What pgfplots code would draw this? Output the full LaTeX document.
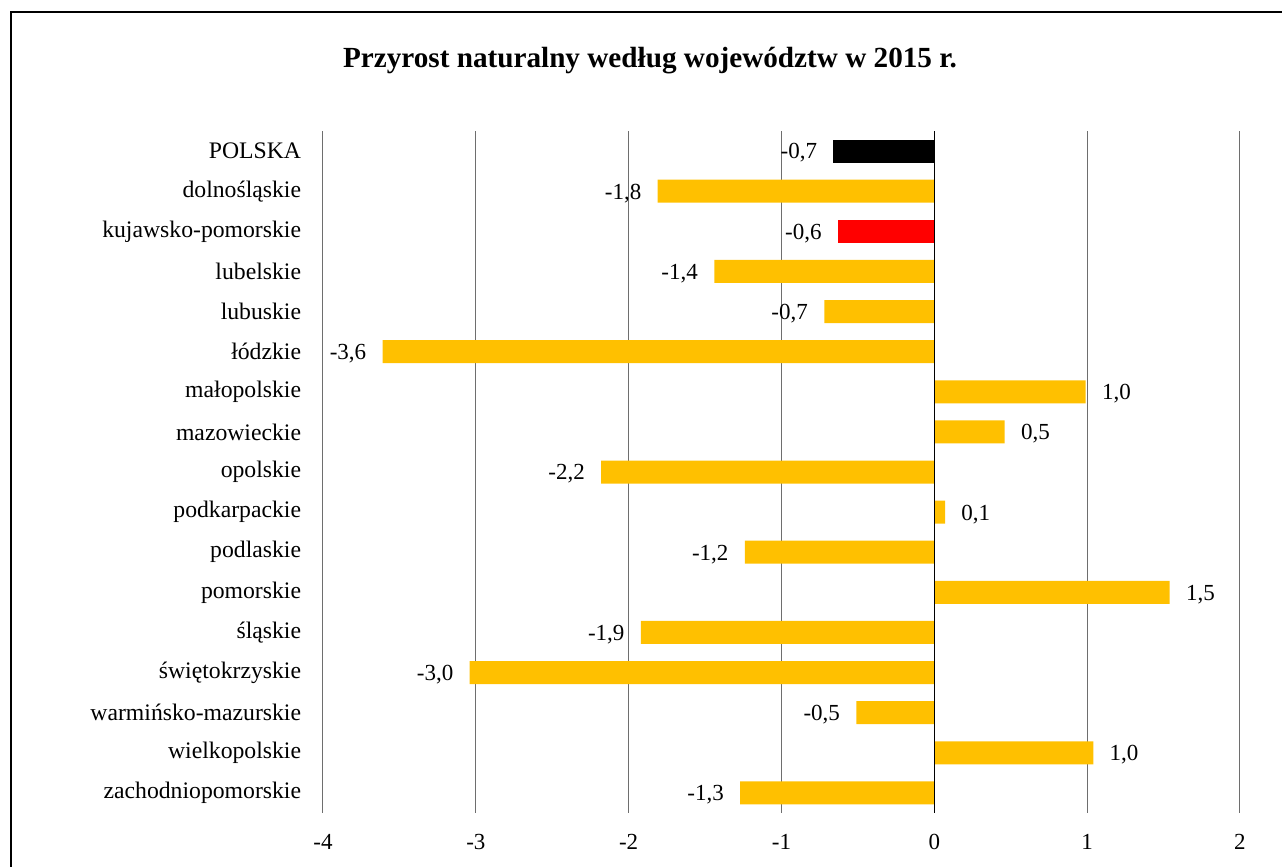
\documentclass[border=0pt]{standalone}
\usepackage{fontspec}
\setmainfont{Liberation Serif}
\usepackage{pgfplots}
\pgfplotsset{compat=1.18}
\definecolor{barY}{HTML}{FFC000}
\definecolor{barR}{HTML}{FF0000}
\definecolor{gridc}{HTML}{6E6E6E}

\newcommand{\lbl}{\fontsize{11.5}{13}\selectfont}
\newcommand{\cat}{\fontsize{11.85}{13}\selectfont}

\begin{document}
\begin{tikzpicture}
\useasboundingbox (0,0) rectangle (641pt,-433.5pt);
% ramka (lewa i gorna krawedz widoczna)
\draw[line width=1pt] (5.5pt,-433.5pt) -- (5.5pt,-5.75pt) -- (641pt,-5.75pt);
\node[anchor=base, font=\fontsize{14.6}{17}\selectfont\bfseries] at (325pt,-34pt)
    {Przyrost naturalny według województw w 2015 r.};

\begin{axis}[
    at={(161.5pt,-406.5pt)}, anchor=south west,
    scale only axis,
    width=458.5pt, height=341pt,
    xbar, bar width=11.5pt, bar shift=0pt,
    xmin=-4, xmax=2,
    ymin=-0.5, ymax=16.5,
    y dir=reverse,
    xtick={-4,-3,-2,-1,0,1,2},
    ytick={0,...,16},
    yticklabels={POLSKA,dolnośląskie,kujawsko-pomorskie,lubelskie,lubuskie,łódzkie,małopolskie,mazowieckie,opolskie,podkarpackie,podlaskie,pomorskie,śląskie,świętokrzyskie,warmińsko-mazurskie,wielkopolskie,zachodniopomorskie},
    axis line style={draw=none},
    tick style={draw=none},
    xmajorgrids=true,
    major grid style={gridc, line width=0.5pt},
    /pgf/number format/assume math mode=true,
    xticklabel style={font=\lbl, inner sep=0pt, yshift=-10.5pt},
    yticklabel style={font=\cat, inner sep=0pt, xshift=-6.5pt},
    nodes near coords,
    nodes near coords style={font=\lbl, inner xsep=8pt, yshift=-1pt,
        /pgf/number format/.cd, use comma, fixed, fixed zerofill, precision=1},
]
\addplot[fill=black, draw=none] coordinates {(-0.66,0)};
\addplot[fill=barR, draw=none] coordinates {(-0.63,2)};
\addplot[fill=barY, draw=none] coordinates {
    (-1.81,1) (-1.44,3) (-0.72,4) (-3.61,5) (0.99,6) (0.46,7)
    (-2.18,8) (0.07,9) (-1.24,10) (1.54,11) (-1.92,12) (-3.04,13)
    (-0.51,14) (1.04,15) (-1.27,16)
};
\draw[black, line width=0.6pt] (axis cs:0,-0.5) -- (axis cs:0,16.5);
\end{axis}
\end{tikzpicture}
\end{document}
